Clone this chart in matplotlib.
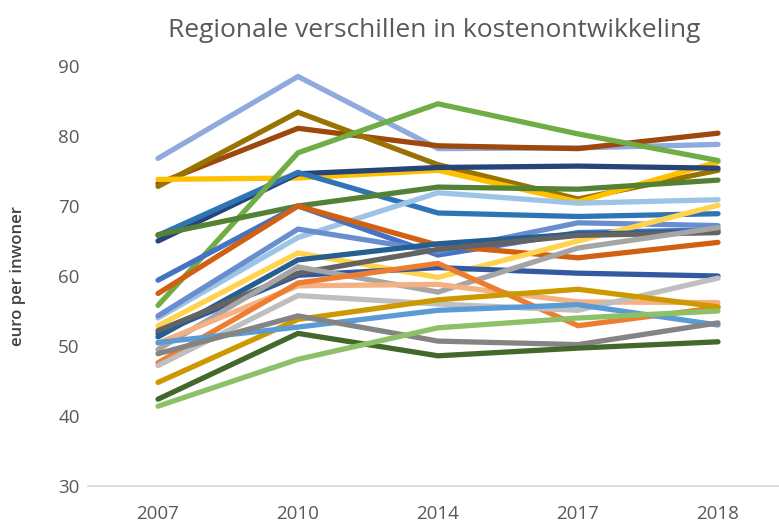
import matplotlib.pyplot as plt

plt.rcParams['font.family'] = ['Open Sans', 'DejaVu Sans']

years = ['2007', '2010', '2014', '2017', '2018']

# kosten per inwoner per regio (euro)
regio_01 = [76.8, 88.5, 78.2, 78.3, 78.8]
regio_02 = [73.2, 81.1, 78.6, 78.2, 80.4]
regio_03 = [72.8, 83.4, 75.9, 71.0, 75.1]
regio_04 = [73.8, 74.0, 75.1, 70.6, 76.3]
regio_05 = [65.0, 74.6, 75.5, 75.7, 75.4]
regio_06 = [65.8, 74.8, 69.0, 68.5, 68.9]
regio_07 = [55.8, 77.6, 84.6, 80.3, 76.5]
regio_08 = [65.9, 70.0, 72.7, 72.4, 73.7]
regio_09 = [54.0, 65.5, 71.9, 70.4, 70.9]
regio_10 = [59.4, 70.0, 63.0, 66.2, 66.6]
regio_11 = [57.5, 70.0, 64.4, 62.6, 64.8]
regio_12 = [54.3, 66.7, 63.5, 67.6, 67.2]
regio_13 = [52.9, 63.3, 59.8, 65.0, 70.1]
regio_14 = [51.8, 60.1, 61.2, 60.4, 60.0]
regio_15 = [51.3, 62.3, 64.6, 66.0, 66.3]
regio_16 = [52.2, 60.4, 63.8, 65.8, 66.2]
regio_17 = [49.5, 61.3, 57.7, 64.0, 66.9]
regio_18 = [50.4, 58.6, 58.8, 56.3, 56.2]
regio_19 = [47.6, 59.0, 61.8, 52.9, 55.5]
regio_20 = [47.2, 57.2, 56.0, 55.1, 59.7]
regio_21 = [44.8, 53.8, 56.6, 58.1, 55.6]
regio_22 = [50.5, 52.7, 55.1, 55.9, 53.0]
regio_23 = [48.9, 54.3, 50.7, 50.2, 53.3]
regio_24 = [42.4, 51.8, 48.6, 49.7, 50.6]
regio_25 = [41.4, 48.1, 52.6, 54.0, 55.0]

series = [regio_01, regio_02, regio_03, regio_04, regio_05, regio_06, regio_07,
          regio_08, regio_09, regio_10, regio_11, regio_12, regio_13, regio_14,
          regio_15, regio_16, regio_17, regio_18, regio_19, regio_20, regio_21,
          regio_22, regio_23, regio_24, regio_25]
colors = ['#8FAADC', '#9E480E', '#997300', '#FFC000', '#264478', '#2E75B6',
          '#70AD47', '#548235', '#9DC3E6', '#4472C4', '#D26012', '#698ED0',
          '#FFD34D', '#335AA1', '#255E91', '#636363', '#A5A5A5', '#F4B183',
          '#ED7D31', '#BFBFBF', '#CC9A00', '#5B9BD5', '#848484', '#43682B',
          '#8CC168']

fig = plt.figure(figsize=(7.79, 5.23), dpi=100)
ax = fig.add_axes([88 / 779, 37 / 523, 700 / 779, 420 / 523])

x = range(len(years))
for vals, c in zip(series, colors):
    ax.plot(x, vals, color=c, lw=3.8, solid_capstyle='round',
            solid_joinstyle='miter', clip_on=False)

ax.set_xlim(-0.5, 4.5)
ax.set_ylim(30, 90)
ax.set_yticks(range(30, 91, 10))
ax.set_xticks(list(x))
ax.set_xticklabels(years)

for s in ['top', 'right', 'left']:
    ax.spines[s].set_visible(False)
ax.spines['bottom'].set_color('#D9D9D9')
ax.spines['bottom'].set_linewidth(1.2)
ax.tick_params(axis='both', length=0, colors='#595959', labelsize=13.5)
ax.tick_params(axis='y', pad=6)
ax.tick_params(axis='x', pad=14)

ax.set_ylabel('euro per inwoner', color='#404040', fontsize=12,
              fontweight='semibold')
ax.yaxis.set_label_coords(-62 / 700, 0.5)
fig.text(0.558, 0.942, 'Regionale verschillen in kostenontwikkeling',
         ha='center', va='center', color='#595959', fontsize=19)

fig.savefig('out.png', dpi=100)
